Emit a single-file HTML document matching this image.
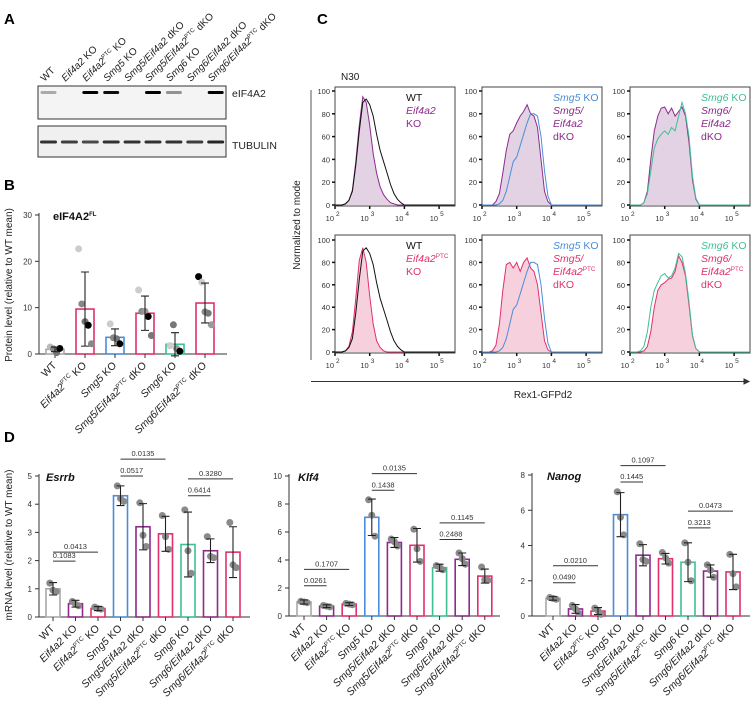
<!DOCTYPE html>
<html><head><meta charset="utf-8"><style>
html,body{margin:0;padding:0;background:#fff;}
svg{display:block;font-family:"Liberation Sans",Arial,sans-serif;}
</style></head><body>
<svg id="fig" width="753" height="703" viewBox="0 0 753 703" xmlns="http://www.w3.org/2000/svg">
<text x="4" y="24" font-size="15" font-weight="bold">A</text>
<text x="4" y="190" font-size="15" font-weight="bold">B</text>
<text x="317" y="24" font-size="15" font-weight="bold">C</text>
<text x="4" y="442" font-size="15" font-weight="bold">D</text>
<g id="blot"></g>
<g id="pb"></g>
<g id="pc"></g>
<g id="pd"></g>
</svg>
<script>
// ---------- DATA ----------
const laneLabels = [[["WT",""]],[["Eif4a2","i"],[" KO",""]],[["Eif4a2","i"],["PTC","s"],[" KO",""]],[["Smg5","i"],[" KO",""]],[["Smg5/Eif4a2","i"],[" dKO",""]],[["Smg5/Eif4a2","i"],["PTC","s"],[" dKO",""]],[["Smg6","i"],[" KO",""]],[["Smg6/Eif4a2","i"],[" dKO",""]],[["Smg6/Eif4a2","i"],["PTC","s"],[" dKO",""]]];
const eifBand = [0.3,0,1,0.95,0,1,0.4,0,1];
const tubBand = [0.85,0.8,0.75,0.85,0.85,0.85,0.85,0.8,0.9];

const bCats = [0,2,3,5,6,8];
const bMeans = [1,9.7,3.6,8.8,2.1,11];
const bErr = [0.5,8,1.8,3.7,2.5,4.3];
const bPts = [[1.5,1.1,0.3,1.2],[22.7,10.8,7,6.2,2.2],[6.5,3.5,3.3,2.2],[13.8,9.2,9.2,8.1,4],[1.8,6.3,1.2,0.6],[16.7,15.5,9.1,8.8,6.3]];
const bPtShade = [["#bbb","#888","#777","#000"],["#ccc","#888","#777","#000","#888"],["#ccc","#888","#777","#000"],["#ccc","#888","#999","#000","#777"],["#ccc","#777","#999","#000"],["#000","#ccc","#888","#777","#999"]];

const esrrbMeans = [1,0.47,0.3,4.3,3.2,2.95,2.57,2.35,2.3];
const esrrbErr = [0.22,0.12,0.07,0.35,0.82,0.62,1.15,0.42,0.9];
const esrrbPts = [[1.2,0.95,0.9],[0.55,0.45,0.4],[0.35,0.3,0.28],[4.65,4.2,4.1],[4.05,2.9,2.5],[3.6,2.85,2.4],[3.8,2.35,1.55],[2.85,2.15,2.1],[3.35,1.85,1.75]];
const esrrbSig = [[0,1,1.98,"0.1083"],[0,2,2.3,"0.0413"],[3,4,5.0,"0.0517"],[3,5,5.6,"0.0135"],[6,7,4.3,"0.6414"],[6,8,4.9,"0.3280"]];
const klf4Means = [1,0.7,0.85,7.05,5.25,5.05,3.45,4.05,2.85];
const klf4Err = [0.15,0.1,0.1,1.3,0.35,1.2,0.25,0.45,0.5];
const klf4Pts = [[1.05,1,0.95],[0.75,0.7,0.65],[0.9,0.85,0.8],[8.3,7.2,5.7],[5.5,5.3,5],[6.2,4.8,3.9],[3.6,3.5,3.3],[4.5,4.1,3.7],[3.5,2.6,2.55]];
const klf4Sig = [[0,1,2.16,"0.0261"],[0,2,3.33,"0.1707"],[3,4,8.98,"0.1438"],[3,5,10.17,"0.0135"],[6,7,5.46,"0.2488"],[6,8,6.65,"0.1145"]];
const nanogMeans = [1,0.4,0.28,5.75,3.45,3.25,3.05,2.55,2.5];
const nanogErr = [0.1,0.25,0.2,1.25,0.6,0.3,1.1,0.35,1.0];
const nanogPts = [[1.05,1,0.95],[0.6,0.4,0.15],[0.45,0.3,0.1],[7.05,5.6,4.6],[4.1,3.2,3.1],[3.6,3.3,3.0],[4.15,3.05,2.0],[2.9,2.6,2.2],[3.5,2.4,1.65]];
const nanogSig = [[0,1,1.89,"0.0490"],[0,2,2.85,"0.0210"],[3,4,7.6,"0.1445"],[3,5,8.53,"0.1097"],[6,7,5.0,"0.3213"],[6,8,5.95,"0.0473"]];
const esrrbTicks = [0,1,2,3,4,5];
const klf4Ticks = [0,2,4,6,8,10];
const nanogTicks = [0,2,4,6,8];
const bTicks = [0,10,20,30];

// histogram log-x grid 2.0..4.0 step 0.1
const histLogX = [2.0,2.1,2.2,2.3,2.4,2.5,2.6,2.7,2.8,2.9,3.0,3.1,3.2,3.3,3.4,3.5,3.6,3.7,3.8,3.9,4.0];
const hWT = [0,0,0,1,4,12,35,65,90,93,88,78,62,48,38,28,18,10,5,2,0];
const hEifKO = [0,0,0,1,4,13,38,70,95,90,70,45,28,16,9,5,2,1,0,0,0];
const hPtcKO = [0,0,0,1,5,18,48,82,93,80,50,25,10,4,1,0,0,0,0,0,0];
const hSmg5 = [0,0,0,0,0,1,4,12,25,38,42,52,62,72,80,80,78,60,30,8,0];
const hSmg5Eif = [0,0,0,0,3,10,28,48,62,65,72,78,82,88,80,78,68,40,12,3,0];
const hSmg5Ptc = [0,0,0,1,6,25,55,78,80,75,80,72,80,84,75,72,60,35,10,2,0];
const hSmg6a = [0,0,0,0,2,10,30,50,58,62,65,62,68,65,78,90,80,60,25,6,0];
const hSmg6Eif = [0,0,0,0,2,12,40,65,78,85,86,80,85,78,82,86,78,55,22,5,0];
const hSmg6b = [0,0,0,1,5,18,40,55,62,68,70,66,68,75,88,85,70,45,15,3,0];
const hSmg6Ptc = [0,0,0,0,1,5,18,40,55,60,62,65,66,72,86,80,68,42,14,3,0];
const cTicks = [0,20,40,60,80,100];
const cDecades = [2,3,4,5];

// ---------- HELPERS ----------
const NS = "http://www.w3.org/2000/svg";
function mk(tag, attrs, parent){ const e=document.createElementNS(NS,tag); for(const k in attrs) e.setAttribute(k,attrs[k]); parent.appendChild(e); return e; }
const COL = {gray:"#a8a8a8",purple:"#8e2a8c",pink:"#e0306e",blue:"#4a8ed8",green:"#3fbf95"};
const dCols = [COL.gray,COL.purple,COL.pink,COL.blue,COL.purple,COL.pink,COL.green,COL.purple,COL.pink];

function richText(parent, segs, x, y, size, anchor, rot){
  const t = mk("text",{x:x,y:y,"font-size":size,"text-anchor":anchor,fill:"#222"},parent);
  if(rot) t.setAttribute("transform",`rotate(${rot} ${x} ${y})`);
  let up=false;
  segs.forEach(s=>{
    const ts = mk("tspan",{},t);
    ts.textContent = s[0];
    if(s[1]==="i") ts.setAttribute("font-style","italic");
    if(s[1]==="s"){ ts.setAttribute("font-size",size*0.6); ts.setAttribute("dy",-size*0.4); up=true; }
    else if(up){ ts.setAttribute("dy",size*0.4); up=false; }
  });
  return t;
}

// ---------- PANEL A ----------
const blot = document.getElementById("blot");
const laneX0 = 48.5, laneStep = 20.9;
laneLabels.forEach((l,i)=>{
  const t = richText(blot,l,laneX0+i*laneStep-4,82,10,"start",-45);
  
  
});
const box1 = mk("rect",{x:38,y:86,width:188,height:33,fill:"#f4f4f4",stroke:"#333","stroke-width":1},blot);


const box2 = mk("rect",{x:38,y:126,width:188,height:31,fill:"#f0f0f0",stroke:"#333","stroke-width":1},blot);


eifBand.forEach((v,i)=>{
  if(v<=0) return;
  const b = mk("rect",{x:laneX0+i*laneStep-8,y:91,width:16,height:3,rx:1.5,fill:"#000",opacity:v},blot);
  
  
});
tubBand.forEach((v,i)=>{
  const b = mk("rect",{x:laneX0+i*laneStep-8.5,y:140.5,width:17,height:3,rx:1.5,fill:"#111",opacity:v},blot);
  
  
});
const tA1 = mk("text",{x:232,y:97,"font-size":10.5,fill:"#222"},blot); tA1.textContent="eIF4A2";


const tA2 = mk("text",{x:232,y:149,"font-size":10.5,fill:"#222"},blot); tA2.textContent="TUBULIN";



// ---------- BAR CHART ----------
function barChart(g, o){
  const y = v => o.y0 - v*(o.y0-o.yTop)/o.ymax;
  const x = i => o.x0 + i*o.step;
  const ax = mk("line",{x1:o.ax,y1:o.yTop-2,x2:o.ax,y2:o.y0,stroke:"#333","stroke-width":1},g);
  
  
  const xa = mk("line",{x1:o.ax,y1:o.y0,x2:o.axEnd,y2:o.y0,stroke:"#333","stroke-width":1},g);
  
  
  o.ticks.forEach(t=>{
    const tl = mk("line",{x1:o.ax-4,y1:y(t),x2:o.ax,y2:y(t),stroke:"#333"},g);
    
    
    const tx = mk("text",{x:o.ax-7,y:y(t)+3,"font-size":8,"text-anchor":"end",fill:"#333"},g); tx.textContent=t;
    
    
  });
  o.means.forEach((m,i)=>{
    const cx = x(i);
    const bar = mk("rect",{x:cx-o.bw/2,y:y(m),width:o.bw,height:o.y0-y(m),fill:"#fff",stroke:o.cols[i],"stroke-width":1.6},g);
    
    
    const tk = mk("line",{x1:cx,y1:o.y0,x2:cx,y2:o.y0+4,stroke:"#333"},g);
    
    
    o.pts[i].forEach((p,j)=>{
      const off = (j - (o.pts[i].length-1)/2)*3.2;
      const c = mk("circle",{cx:cx+off,cy:y(p),r:o.r,fill:o.shades?o.shades[i][j]:"#8a8a8a"},g);
      
      
    });
    const e = o.err[i];
    const eb = mk("path",{d:`M${cx},${y(m-e)}V${y(m+e)}M${cx-4},${y(m-e)}H${cx+4}M${cx-4},${y(m+e)}H${cx+4}`,stroke:"#222","stroke-width":1.1,fill:"none"},g);
    
    
    const lab = richText(g,o.labels[i],cx+2,o.y0+12,10.5,"end",-45);
    
    
  });
  (o.sig||[]).forEach(s=>{
    const sl = mk("line",{x1:x(s[0]),y1:y(s[2]),x2:x(s[1]),y2:y(s[2]),stroke:"#333","stroke-width":1},g);
    
    
    const st = mk("text",{x:(x(s[0])+x(s[1]))/2,y:y(s[2])-3,"font-size":7.5,"text-anchor":"middle",fill:"#333"},g); st.textContent=s[3];
    
    
  });
  const ti = mk("text",{x:o.titleX,y:o.yTop+5,"font-size":11,"font-weight":"bold","font-style":o.titleItalic?"italic":"normal",fill:"#111"},g);
  ti.textContent = o.title;
  if(o.titleSup){ const s=mk("tspan",{"font-size":6,dy:-4,"font-style":"normal"},ti); s.textContent=o.titleSup; }
  
  
}

const pb = document.getElementById("pb");
barChart(pb,{x0:55,step:30,ax:39,axEnd:227,y0:354,yTop:215,ymax:30,ticks:bTicks,means:bMeans,err:bErr,pts:bPts,shades:bPtShade,
  cols:bCats.map(c=>dCols[c]),labels:bCats.map(c=>laneLabels[c]),bw:18,r:3.5,title:"eIF4A2",titleSup:"FL",titleX:53,titleItalic:false});
const yb = mk("text",{x:0,y:0,"font-size":10,"text-anchor":"middle",fill:"#222",transform:"translate(12,285) rotate(-90)"},pb);
yb.textContent="Protein level (relative to WT mean)";



const pd = document.getElementById("pd");
const gE = mk("g",{},pd);


barChart(gE,{x0:53,step:22.5,ax:39,axEnd:250,y0:617,yTop:476,ymax:5,ticks:esrrbTicks,means:esrrbMeans,err:esrrbErr,pts:esrrbPts,cols:dCols,labels:laneLabels,bw:14,r:3.5,sig:esrrbSig,title:"Esrrb",titleX:46,titleItalic:true});
const gK = mk("g",{},pd);


barChart(gK,{x0:304,step:22.6,ax:289,axEnd:500,y0:616,yTop:476,ymax:10,ticks:klf4Ticks,means:klf4Means,err:klf4Err,pts:klf4Pts,cols:dCols,labels:laneLabels,bw:14,r:3.5,sig:klf4Sig,title:"Klf4",titleX:298,titleItalic:true});
const gN = mk("g",{},pd);


barChart(gN,{x0:553,step:22.5,ax:532,axEnd:750,y0:616,yTop:475,ymax:8,ticks:nanogTicks,means:nanogMeans,err:nanogErr,pts:nanogPts,cols:dCols,labels:laneLabels,bw:14,r:3.5,sig:nanogSig,title:"Nanog",titleX:547,titleItalic:true});
const yd = mk("text",{x:0,y:0,"font-size":10,"text-anchor":"middle",fill:"#222",transform:"translate(12,545) rotate(-90)"},pd);
yd.textContent="mRNA level (relative to WT mean)";



// ---------- PANEL C ----------
const pc = document.getElementById("pc");
const fillCol = {purple:"#e3d2e4",pink:"#f6d0dd"};
const panels = [
  {left:335,top:87,y0:205,y100:91,lineS:hWT,lineC:"#111",fillS:hEifKO,fc:COL.purple,ff:fillCol.purple,leg:[[["WT",""]],[["Eif4a2","i"]],[["KO",""]]],legC:["#111",COL.purple,COL.purple]},
  {left:482,top:87,y0:205,y100:91,lineS:hSmg5,lineC:COL.blue,fillS:hSmg5Eif,fc:COL.purple,ff:fillCol.purple,leg:[[["Smg5","i"],[" KO",""]],[["Smg5/","i"]],[["Eif4a2","i"]],[["dKO",""]]],legC:[COL.blue,COL.purple,COL.purple,COL.purple]},
  {left:630,top:87,y0:205,y100:91,lineS:hSmg6a,lineC:COL.green,fillS:hSmg6Eif,fc:COL.purple,ff:fillCol.purple,leg:[[["Smg6","i"],[" KO",""]],[["Smg6/","i"]],[["Eif4a2","i"]],[["dKO",""]]],legC:[COL.green,COL.purple,COL.purple,COL.purple]},
  {left:335,top:235,y0:352,y100:240,lineS:hWT,lineC:"#111",fillS:hPtcKO,fc:COL.pink,ff:fillCol.pink,leg:[[["WT",""]],[["Eif4a2","i"],["PTC","s"]],[["KO",""]]],legC:["#111",COL.pink,COL.pink]},
  {left:482,top:235,y0:352,y100:240,lineS:hSmg5,lineC:COL.blue,fillS:hSmg5Ptc,fc:COL.pink,ff:fillCol.pink,leg:[[["Smg5","i"],[" KO",""]],[["Smg5/","i"]],[["Eif4a2","i"],["PTC","s"]],[["dKO",""]]],legC:[COL.blue,COL.pink,COL.pink,COL.pink]},
  {left:630,top:235,y0:352,y100:240,lineS:hSmg6b,lineC:COL.green,fillS:hSmg6Ptc,fc:COL.pink,ff:fillCol.pink,leg:[[["Smg6","i"],[" KO",""]],[["Smg6/","i"]],[["Eif4a2","i"],["PTC","s"]],[["dKO",""]]],legC:[COL.green,COL.pink,COL.pink,COL.pink]}
];
const decPx = 34.7;
panels.forEach(p=>{
  const g = mk("g",{},pc);
  
  
  const X = lx => p.left + (lx-2)*decPx;
  const Y = v => p.y0 - v*(p.y0-p.y100)/100;
  const fr = mk("rect",{x:p.left,y:p.top,width:120,height:p.y0+1-p.top,fill:"#fff",stroke:"#444","stroke-width":1},g);
  
  
  let d = `M${X(2)},${Y(0)}`;
  histLogX.forEach((lx,i)=>{ d += `L${X(lx).toFixed(1)},${Y(p.fillS[i]).toFixed(1)}`; });
  d += `L${X(5.45)},${Y(0)}`;
  const fp = mk("path",{d:d+"Z",fill:p.ff,stroke:"none"},g);
  
  
  const lp = mk("path",{d:d,fill:"none",stroke:p.fc,"stroke-width":1},g);
  
  
  let d2 = `M${X(2)},${Y(0)}`;
  histLogX.forEach((lx,i)=>{ d2 += `L${X(lx).toFixed(1)},${Y(p.lineS[i]).toFixed(1)}`; });
  d2 += `L${X(5.45)},${Y(0)}`;
  const l2 = mk("path",{d:d2,fill:"none",stroke:p.lineC,"stroke-width":1},g);
  
  
  cTicks.forEach(t=>{
    const tk = mk("line",{x1:p.left-3,y1:Y(t),x2:p.left,y2:Y(t),stroke:"#111","stroke-width":1.5},g);
    
    
    const tx = mk("text",{x:p.left-5,y:Y(t)+3,"font-size":7.5,"text-anchor":"end",fill:"#333"},g); tx.textContent=t;
    
    
  });
  cDecades.forEach(dc=>{
    const tk = mk("line",{x1:X(dc),y1:p.y0+1,x2:X(dc),y2:p.y0+4,stroke:"#111","stroke-width":1.5},g);
    
    
    const tx = mk("text",{x:X(dc)-1,y:p.y0+16,"font-size":7.5,"text-anchor":"end",fill:"#333"},g); tx.textContent="10";
    
    
    const te = mk("text",{x:X(dc)+1,y:p.y0+11,"font-size":6.5,fill:"#333"},g); te.textContent=dc;
    
    
  });
  p.leg.forEach((l,i)=>{
    const t = richText(g,l,p.left+71,p.top+14+i*13,10.5,"start",0);
    t.setAttribute("fill",p.legC[i]);
    t.querySelectorAll("tspan").forEach(s=>s.setAttribute("fill",p.legC[i]));
    
    
  });
});
const n30 = mk("text",{x:341,y:80,"font-size":10,fill:"#222"},pc); n30.textContent="N30";


const vline = mk("line",{x1:311,y1:90,x2:311,y2:360,stroke:"#555","stroke-width":1},pc);


const yc = mk("text",{x:0,y:0,"font-size":10,"text-anchor":"middle",fill:"#222",transform:"translate(300,225) rotate(-90)"},pc);
yc.textContent="Normalized to mode";


const arrow = mk("path",{d:"M311,381.5H748M744,379L749,381.5L744,384Z",stroke:"#333","stroke-width":1,fill:"#333"},pc);


const xc = mk("text",{x:543,y:398,"font-size":10,"text-anchor":"middle",fill:"#222"},pc); xc.textContent="Rex1-GFPd2";


</script>
</body></html>
